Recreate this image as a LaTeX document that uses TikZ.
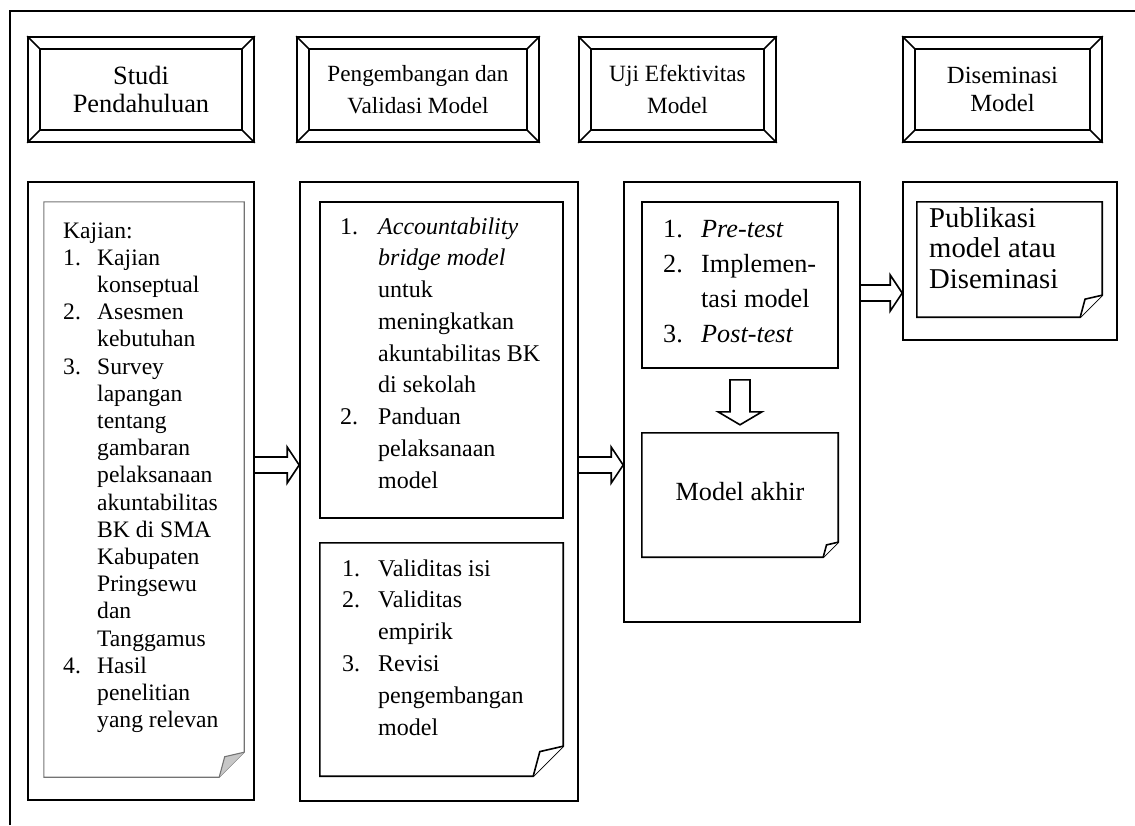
\documentclass[tikz,border=0pt]{standalone}
\usepackage{fontspec}
\setmainfont{Liberation Serif}
\usepackage{tikz}
\usetikzlibrary{calc}

\newcommand{\foldnote}[4]{%
  \draw[#3] (#1.north west) -- (#1.north east) -- ($(#1.south east)+(0,-#2)$) -- ($(#1.south east)+(-#2,0)$) -- (#1.south west) -- cycle;
  \draw[#3, fill=#4] ($(#1.south east)+(-#2,0)$) -- ($(#1.south east)+(-0.78*#2,-0.82*#2)$) -- ($(#1.south east)+(0,-#2)$);
}
\newcommand{\blockarrow}[3]{%
  \draw[blockarr] ($(#1.east |- 0,#3)+(0,-8)$) -- ($(#2.west |- 0,#3)+(-12,-8)$) -- ++(0,-10) -- (#2.west |- 0,#3) -- ++(-12,18) -- ++(0,-10) -- ($(#1.east |- 0,#3)+(0,8)$);
}

\begin{document}
\begin{tikzpicture}[x=1pt, y=-1pt,
  box/.style={draw, line width=1.6pt, inner sep=0pt},
  bevel/.style={box, minimum height=105pt, align=center},
  noteshape/.style={inner sep=0pt},
  listtext/.style={anchor=base west, inner sep=0pt},
  blockarr/.style={line width=1.6pt, line join=miter},
  ]
\useasboundingbox (0,0) rectangle (1135,825);
\draw[line width=1.6pt] (10,825) -- (10,11) -- (1135,11);

% headers
\node[bevel, minimum width=226pt, font=\fontsize{26.4}{28.5}\selectfont] (h1) at (141,89.5) {Studi\\Pendahuluan};
\node[bevel, minimum width=242pt, font=\fontsize{23.2}{31.7}\selectfont] (h2) at (418,89.5) {Pengembangan dan\\Validasi Model};
\node[bevel, minimum width=197pt, font=\fontsize{23.3}{31.7}\selectfont] (h3) at (677.5,89.5) {Uji Efektivitas\\Model};
\node[bevel, minimum width=199pt, font=\fontsize{24.7}{28.5}\selectfont] (h4) at (1002.5,89.5) {Diseminasi\\Model};
\foreach \h in {h1,h2,h3,h4} {
  \draw[line width=1.6pt] ($(\h.north west)+(13,13)$) rectangle ($(\h.south east)+(-13,-13)$);
  \draw[line width=1.6pt] (\h.north west) -- ++(13,13);
  \draw[line width=1.6pt] (\h.north east) -- ++(-13,13);
  \draw[line width=1.6pt] (\h.south west) -- ++(13,-13);
  \draw[line width=1.6pt] (\h.south east) -- ++(-13,-13);
}

% columns
\node[box, minimum width=226pt, minimum height=618pt] (c1) at (141,491) {};
\node[box, minimum width=278pt, minimum height=619pt] (c2) at (439,491.5) {};
\node[box, minimum width=236pt, minimum height=440pt] (c3) at (742,402) {};
\node[box, minimum width=214pt, minimum height=158pt] (c4) at (1010,261) {};

% Studi Pendahuluan
\node[noteshape, minimum width=200pt, minimum height=575pt] (n1) at (144,489.5) {};
\foldnote{n1}{25}{line width=1.1pt, black!55}{black!22}
\node[listtext, font=\fontsize{23.6}{27.2}\selectfont] (t1) at (63,238) {%
\begin{tabular}[t]{@{}p{34pt}@{}l@{}}
\multicolumn{2}{@{}l@{}}{Kajian:}\\
1. & Kajian\\
   & konseptual\\
2. & Asesmen\\
   & kebutuhan\\
3. & Survey\\
   & lapangan\\
   & tentang\\
   & gambaran\\
   & pelaksanaan\\
   & akuntabilitas\\
   & BK di SMA\\
   & Kabupaten\\
   & Pringsewu\\
   & dan\\
   & Tanggamus\\
4. & Hasil\\
   & penelitian\\
   & yang relevan
\end{tabular}};

% Pengembangan dan Validasi Model
\node[box, minimum width=243pt, minimum height=316pt] (n2a) at (441.5,360) {};
\node[listtext, font=\fontsize{24}{31.75}\selectfont] (t2a) at (340,234) {%
\begin{tabular}[t]{@{}p{38pt}@{}l@{}}
1. & \textit{Accountability}\\
   & \textit{bridge model}\\
   & untuk\\
   & meningkatkan\\
   & akuntabilitas BK\\
   & di sekolah\\
2. & Panduan\\
   & pelaksanaan\\
   & model
\end{tabular}};
\node[noteshape, minimum width=243pt, minimum height=233pt] (n2b) at (441.5,659.5) {};
\foldnote{n2b}{30}{line width=1.6pt}{white}
\node[listtext, font=\fontsize{24}{31.8}\selectfont] (t2b) at (342,576) {%
\begin{tabular}[t]{@{}p{36pt}@{}l@{}}
1. & Validitas isi\\
2. & Validitas\\
   & empirik\\
3. & Revisi\\
   & pengembangan\\
   & model
\end{tabular}};

% Uji Efektivitas Model
\node[box, minimum width=196pt, minimum height=166pt] (n3a) at (740,285) {};
\node[listtext, font=\fontsize{26.2}{35}\selectfont] (t3a) at (663,237) {%
\begin{tabular}[t]{@{}p{38pt}@{}l@{}}
1. & \textit{Pre-test}\\
2. & Implemen-\\
   & tasi model\\
3. & \textit{Post-test}
\end{tabular}};
\node[noteshape, minimum width=196pt, minimum height=124pt, text depth=8pt, font=\fontsize{26.2}{30}\selectfont] (n3b) at (740,495) {Model akhir};
\foldnote{n3b}{15}{line width=1.6pt}{white}
\draw[blockarr] ($(n3a.south)+(-10,11)$) -- ($(n3b.north)+(-10,-21)$) -- ++(-12,0) -- ($(n3b.north)+(0,-8)$)
  -- ($(n3b.north)+(22,-21)$) -- ++(-12,0) -- ($(n3a.south)+(10,11)$) -- cycle;

% Diseminasi Model
\node[noteshape, minimum width=185pt, minimum height=115pt] (n4) at (1009.5,259.5) {};
\foldnote{n4}{22}{line width=1.6pt}{white}
\node[listtext, font=\fontsize{28.7}{30.8}\selectfont] (t4) at (929,227) {%
\begin{tabular}[t]{@{}l@{}}
Publikasi\\
model atau\\
Diseminasi
\end{tabular}};

% arrows between columns
\blockarrow{c1}{c2}{465}
\blockarrow{c2}{c3}{465}
\blockarrow{c3}{c4}{293}
\end{tikzpicture}
\end{document}
